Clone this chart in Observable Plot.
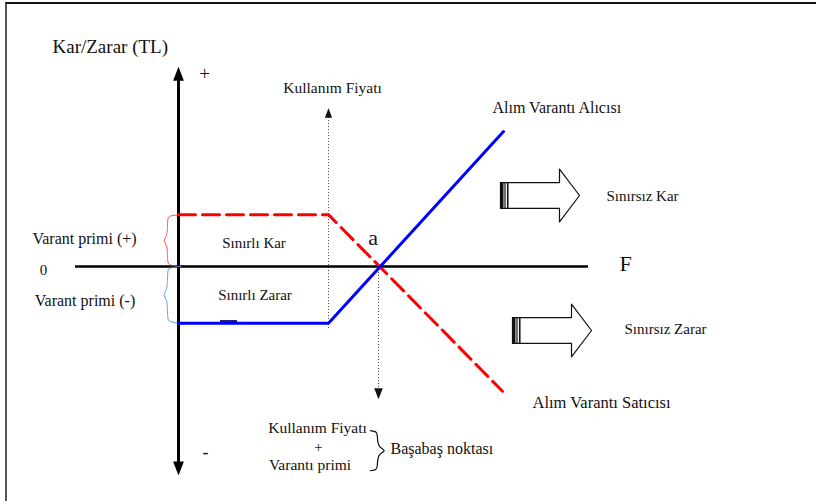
<!DOCTYPE html>
<html><head><meta charset="utf-8">
<script src="https://cdn.jsdelivr.net/npm/d3@7"></script>
<script src="https://cdn.jsdelivr.net/npm/@observablehq/plot@0.6"></script>
<style>
html,body{margin:0;padding:0;background:#fff;}
#wrap{position:relative;width:816px;height:501px;overflow:hidden;}
#wrap svg{position:absolute;left:0;top:0;}
#frame{position:absolute;left:5px;top:2px;right:-5px;bottom:-5px;border-left:2px solid #555;border-top:2px solid #111;pointer-events:none;z-index:2;}
</style></head><body><div id="wrap"><div id="frame"></div></div>
<script>
// ---- data (F = underlying price, PL = profit / loss) ----
const strike = 3;
const breakeven = 4;
const buyerF = [0, 3, 6.5];
const buyerPL = [-1.05, -1.05, 2.5];
const sellerF = [0, 3, 6.48];
const sellerPL = [0.96, 0.96, -2.31];
const premiumPlus = 0.96;
const premiumMinus = -1.05;
const axisX = [-2.06, 8.2];
const axisY = [-3.72, 3.55];

const labelText = ["Kar/Zarar (TL)", "+", "-", "Kullanım Fiyatı", "Alım Varantı Alıcısı", "Sınırsız Kar", "F",
  "Sınırsız Zarar", "0", "Varant primi (+)", "Varant primi (-)", "Sınırlı Kar", "Sınırlı Zarar", "a",
  "Alım Varantı Satıcısı", "Kullanım Fiyatı", "+", "Varantı primi", "Başabaş noktası"];
const labelF = [-2.52, 0.52, 0.54, 3.08, 6.28, 8.56, 8.94, 8.92, -2.7, -1.88, -1.87, 1.51, 1.53, 3.89, 7.08, 2.78, 2.8, 2.63, 4.24];
const labelPL = [4.06, 3.56, -3.44, 3.31, 2.93, 1.30, 0.056, -1.17, -0.074, 0.52, -0.63, 0.43, -0.54, 0.52, -2.52, -3.0, -3.35, -3.67, -3.37];
const labelSize = [19, 19, 18, 15.5, 16, 15, 22, 15, 15, 16, 16, 15, 15, 22, 16.5, 15.5, 14, 15.5, 16];
const labelAnchor = ["start", "middle", "middle", "middle", "start", "start", "middle", "start", "middle", "middle", "middle", "middle", "middle", "middle", "start", "middle", "middle", "middle", "start"];

const arrowNames = ["Sınırsız Kar", "Sınırsız Zarar"];
const arrowF = [6.44, 6.68];
const arrowPL = [1.315, -1.185];

// ---- build tables ----
const buyer = buyerF.map((f, i) => ({f, pl: buyerPL[i]}));
const seller = sellerF.map((f, i) => ({f, pl: sellerPL[i]}));
const labels = labelText.map((t, i) => ({t, f: labelF[i], pl: labelPL[i], size: labelSize[i], anchor: labelAnchor[i]}));

// block arrow outline
const bodyLen = 1.18, totalLen = 1.58, bodyH = 0.24, headH = 0.49;
const arrowPoly = [];
arrowNames.forEach((name, i) => {
  const x0 = arrowF[i], c = arrowPL[i];
  [[x0, c + bodyH], [x0 + bodyLen, c + bodyH], [x0 + bodyLen, c + headH], [x0 + totalLen, c],
   [x0 + bodyLen, c - headH], [x0 + bodyLen, c - bodyH], [x0, c - bodyH], [x0, c + bodyH]]
    .forEach(([f, pl]) => arrowPoly.push({name, f, pl}));
});
const stripes = [];
arrowNames.forEach((name, i) => {
  [[0.03, 3], [0.09, 1.2], [0.145, 1.6]].forEach(([o, w]) => stripes.push({f: arrowF[i] + o, y1: arrowPL[i] - bodyH, y2: arrowPL[i] + bodyH, w}));
});

// curly brace shapes
const braceT = [0, 0.02, 0.1, 0.42, 0.5, 0.58, 0.9, 0.98, 1];
const leftBraceX = [0.04, -0.2, -0.22, -0.22, -0.32, -0.22, -0.22, -0.2, 0.04];
function brace(top, bottom, xs, x0, id) {
  return braceT.map((t, i) => ({id, f: x0 + xs[i], pl: top + (bottom - top) * t}));
}
const redBrace = brace(premiumPlus, 0, leftBraceX, 0, "r");
const blueBrace = brace(0, premiumMinus, leftBraceX, 0, "b");
const rightBraceX = [0, 0.12, 0.14, 0.14, 0.34, 0.14, 0.14, 0.12, 0];
const beBrace = brace(-3.04, -3.78, rightBraceX, 3.84, "k");

const headSymbol = {draw(ctx, size) { const r = Math.sqrt(size / Math.PI); ctx.moveTo(0, 0); ctx.lineTo(-r, 2.6 * r); ctx.lineTo(r, 2.6 * r); ctx.closePath(); }};
const serif = "Liberation Serif, Times New Roman, serif";

const chart = Plot.plot({
  width: 816, height: 501, margin: 0,
  x: {domain: [0, 10], range: [178, 678], axis: null},
  y: {domain: [0, 1], range: [266, 212], axis: null},
  style: {background: "white", overflow: "visible"},
  marks: [
    // dotted guide lines
    Plot.ruleX([strike], {y1: -1.15, y2: 2.8, stroke: "#444", strokeWidth: 1, strokeDasharray: "1,2"}),
    Plot.ruleX([breakeven], {y1: 0, y2: -2.25, stroke: "#444", strokeWidth: 1, strokeDasharray: "1,2"}),
    Plot.dot([strike], {x: d => d, y: 2.93, symbol: headSymbol, r: 3.6, fill: "#111", stroke: "none"}),
    Plot.dot([breakeven], {x: d => d, y: -2.46, symbol: headSymbol, r: 4.3, fill: "#111", stroke: "none", rotate: 180}),
    // axes
    Plot.ruleY([0], {x1: axisX[0], x2: axisX[1], stroke: "black", strokeWidth: 2.5}),
    Plot.ruleX([0], {y1: axisY[0], y2: axisY[1], stroke: "black", strokeWidth: 3}),
    Plot.dot([0], {x: d => d, y: 3.70, symbol: headSymbol, r: 5.4, fill: "black", stroke: "none"}),
    Plot.dot([0], {x: d => d, y: -3.87, symbol: headSymbol, r: 5.4, fill: "black", stroke: "none", rotate: 180}),
    // braces
    Plot.line(redBrace, {x: "f", y: "pl", curve: "basis", stroke: "#ff3030", strokeWidth: 1, strokeDasharray: "1,1"}),
    Plot.line(blueBrace, {x: "f", y: "pl", curve: "basis", stroke: "#3a8fdc", strokeWidth: 1, strokeDasharray: "1,1"}),
    Plot.line(beBrace, {x: "f", y: "pl", curve: "basis", stroke: "#111", strokeWidth: 1.2}),
    // payoff lines
    Plot.line(seller, {x: "f", y: "pl", stroke: "#ff0000", strokeWidth: 3, strokeDasharray: "17,7"}),
    Plot.line(buyer, {x: "f", y: "pl", stroke: "#0000ff", strokeWidth: 3}),
    Plot.ruleY([buyerPL[0] + 0.04], {x1: 0.84, x2: 1.18, stroke: "#1a1a80", strokeWidth: 2}),
    // block arrows
    Plot.line(arrowPoly, {x: "f", y: "pl", z: "name", fill: "white", stroke: "#111", strokeWidth: 1.2}),
    Plot.ruleX(stripes, {x: "f", y1: "y1", y2: "y2", strokeWidth: "w", stroke: "#111"}),
    // labels
    Plot.text(labels.filter(d => d.anchor === "middle"), {x: "f", y: "pl", text: "t", fontSize: d => d.size, textAnchor: "middle", fontFamily: serif, fill: "#111"}),
    Plot.text(labels.filter(d => d.anchor === "start"), {x: "f", y: "pl", text: "t", fontSize: d => d.size, textAnchor: "start", fontFamily: serif, fill: "#111"})
  ]
});
document.getElementById("wrap").appendChild(chart);
</script>
</body></html>
